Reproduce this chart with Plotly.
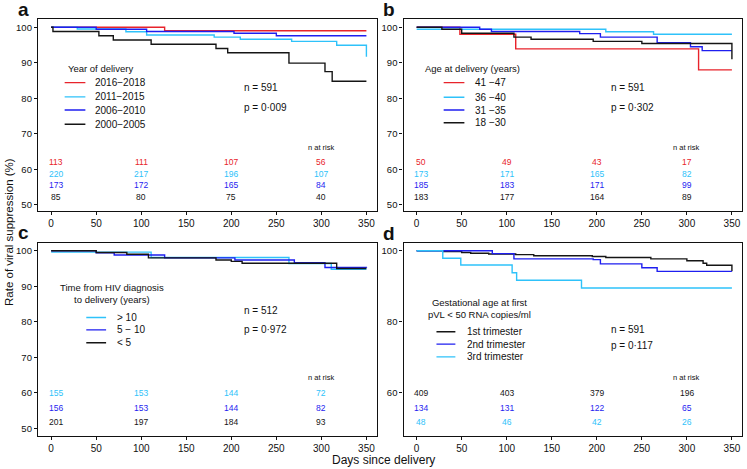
import plotly.graph_objects as go

# ---------------- data ----------------
RED = "#e8232b"
LBLUE = "#2ec2fa"
BLUE = "#1e1ef0"
BLACK = "#151515"

days_ticks = [0, 50, 100, 150, 200, 250, 300, 350]
risk_days = [0, 100, 200, 300]

# Panel a: Year of delivery
a_labels = ["2016\u22122018", "2011\u22122015", "2006\u22122010", "2000\u22122005"]
a_colors = [RED, LBLUE, BLUE, BLACK]
a_t = [
    [0, 126, 350],
    [0, 29, 83, 106, 181, 210, 267, 317, 350],
    [0, 50, 106, 203, 250, 350],
    [0, 2, 53, 69, 111, 183, 196, 264, 304, 312, 350],
]
a_s = [
    [100, 99.0, 99.0],
    [100, 99.5, 98.7, 97.8, 97.2, 96.6, 96.0, 94.9, 91.7],
    [100, 99.4, 98.8, 98.3, 97.6, 97.6],
    [100, 98.8, 97.6, 96.4, 95.2, 94.0, 92.8, 89.9, 87.5, 84.8, 84.8],
]
a_risk = [[113, 111, 107, 56], [220, 217, 196, 107], [173, 172, 165, 84], [85, 80, 75, 40]]

# Panel b: Age at delivery
b_labels = ["41 \u221247", "36 \u221240", "31 \u221235", "18 \u221230"]
b_colors = [RED, LBLUE, BLUE, BLACK]
b_t = [
    [0, 48, 110, 313, 350],
    [0, 210, 263, 350],
    [0, 70, 83, 181, 204, 267, 304, 317, 350],
    [0, 28, 50, 108, 127, 196, 250, 350],
]
b_s = [
    [100, 98.0, 93.9, 88.0, 88.0],
    [99.4, 98.7, 98.0, 98.0],
    [100, 99.4, 98.8, 98.2, 97.2, 95.6, 94.5, 93.4, 93.4],
    [100, 99.4, 98.3, 97.2, 96.6, 96.0, 95.4, 91.0],
]
b_risk = [[50, 49, 43, 17], [173, 171, 165, 82], [185, 183, 171, 99], [183, 177, 164, 89]]

# Panel c: Time from HIV diagnosis to delivery
c_labels = ["> 10", "5 \u2212 10", "< 5"]
c_colors = [LBLUE, BLUE, BLACK]
c_t = [
    [0, 111, 264, 311, 350],
    [0, 50, 70, 126, 204, 270, 304, 350],
    [0, 50, 84, 108, 183, 200, 212, 317, 350],
]
c_s = [
    [99.6, 98.1, 96.4, 94.8, 94.8],
    [100, 99.4, 98.8, 98.0, 97.4, 96.6, 95.3, 95.2],
    [100, 99.5, 99.0, 98.0, 97.4, 97.0, 96.5, 95.0, 95.0],
]
c_risk = [[155, 153, 144, 72], [156, 153, 144, 82], [201, 197, 184, 93]]

# Panel d: Gestational age at first pVL < 50
d_labels = ["1st trimester", "2nd trimester", "3rd trimester"]
d_colors = [BLACK, BLUE, LBLUE]
d_t = [
    [0, 30, 50, 60, 80, 110, 130, 195, 210, 260, 300, 318, 322, 350],
    [0, 84, 108, 196, 204, 250, 267, 350],
    [0, 29, 49, 106, 111, 183, 350],
]
d_s = [
    [100, 99.8, 99.5, 99.3, 99.1, 98.9, 98.6, 98.4, 98.1, 97.7, 97.2, 96.5, 95.9, 94.2],
    [100, 99.2, 97.7, 97.5, 96.3, 95.2, 94.2, 94.2],
    [100, 97.9, 96.0, 93.8, 91.7, 89.5, 89.5],
]
d_risk = [[409, 403, 379, 196], [134, 131, 122, 65], [48, 46, 42, 26]]

n_values = [591, 591, 512, 591]
p_values = ["0\u00b7009", "0\u00b7302", "0\u00b7972", "0\u00b7117"]

# ---------------- figure ----------------
W, H = 747, 469
FONT = "Liberation Sans, Arial, sans-serif"

fig = go.Figure()

panels = [
    dict(ax="", t=a_t, s=a_s, labels=a_labels, colors=a_colors, risk=a_risk,
         title="Year of delivery", title_xy=(55, 88.5), leg_x=(15, 38), leg_text_x=47,
         leg_rows=[84.4, 80.4, 76.7, 72.7], np_xy=(212, 82.9, 77.5),
         risk_rows=[62.0, 58.8, 55.5, 52.3], risk_label_y=66.3),
    dict(ax="2", t=b_t, s=b_s, labels=b_labels, colors=b_colors, risk=b_risk,
         title="Age at delivery (years)", title_xy=(62, 88.5), leg_x=(30, 53), leg_text_x=62.5,
         leg_rows=[84.4, 80.3, 76.7, 73.1], np_xy=(213, 82.9, 77.5),
         risk_rows=[62.0, 58.8, 55.5, 52.3], risk_label_y=66.3),
    dict(ax="3", t=c_t, s=c_s, labels=c_labels, colors=c_colors, risk=c_risk,
         title="Time from HIV diagnosis<br>to delivery (years)", title_xy=(67, 87.9), leg_x=(39, 61), leg_text_x=71,
         leg_rows=[81.2, 77.7, 74.1], np_xy=(212, 83.1, 77.7),
         risk_rows=[60.0, 55.8, 51.7], risk_label_y=64.4),
    dict(ax="4", t=d_t, s=d_s, labels=d_labels, colors=d_colors, risk=d_risk,
         title="Gestational age at first<br>pVL < 50 RNA copies/ml", title_xy=(70, 83.6), leg_x=(22, 43), leg_text_x=53.7,
         leg_rows=[77.2, 73.7, 70.1], np_xy=(213, 77.9, 73.2),
         risk_rows=[60.0, 55.8, 51.7], risk_label_y=64.4),
]

annotations = []
shapes = []

for i, p in enumerate(panels):
    xr = "x" + p["ax"]
    yr = "y" + p["ax"]
    for t, s, lab, col in zip(p["t"], p["s"], p["labels"], p["colors"]):
        fig.add_trace(go.Scatter(
            x=t, y=s, mode="lines", line=dict(color=col, width=1.4, shape="hv"),
            name=lab, showlegend=False, xaxis=xr, yaxis=yr, hoverinfo="skip"))
    # legend title
    annotations.append(dict(x=p["title_xy"][0], y=p["title_xy"][1], xref=xr, yref=yr,
                            text=p["title"], showarrow=False, xanchor="center", yanchor="middle",
                            font=dict(size=9.5, color="#111", family=FONT)))
    for lab, col, ry in zip(p["labels"], p["colors"], p["leg_rows"]):
        shapes.append(dict(type="line", xref=xr, yref=yr, x0=p["leg_x"][0], x1=p["leg_x"][1],
                           y0=ry, y1=ry, line=dict(color=col, width=1.4)))
        annotations.append(dict(x=p["leg_text_x"], y=ry, xref=xr, yref=yr, text=lab,
                                showarrow=False, xanchor="left", yanchor="middle",
                                font=dict(size=10, color="#111", family=FONT)))
    # n and p
    nx, ny, py = p["np_xy"]
    annotations.append(dict(x=nx, y=ny, xref=xr, yref=yr, text="n = %d" % n_values[i],
                            showarrow=False, xanchor="left", yanchor="middle",
                            font=dict(size=10, color="#111", family=FONT)))
    annotations.append(dict(x=nx, y=py, xref=xr, yref=yr, text="p = " + p_values[i],
                            showarrow=False, xanchor="left", yanchor="middle",
                            font=dict(size=10, color="#111", family=FONT)))
    # numbers at risk
    annotations.append(dict(x=300, y=p["risk_label_y"], xref=xr, yref=yr, text="n at risk",
                            showarrow=False, xanchor="center", yanchor="middle",
                            font=dict(size=7.5, color="#111", family=FONT)))
    for row, col, ry in zip(p["risk"], p["colors"], p["risk_rows"]):
        for d, v in zip(risk_days, row):
            annotations.append(dict(x=max(d, 5), y=ry, xref=xr, yref=yr, text=str(v),
                                    showarrow=False, xanchor="center", yanchor="middle",
                                    font=dict(size=8.5, color=col, family=FONT)))

# panel letters
for letter, px, py in [("a", 24, 10), ("b", 389, 10), ("c", 23, 232), ("d", 389, 233)]:
    annotations.append(dict(x=px / W, y=1 - py / H, xref="paper", yref="paper", text="<b>%s</b>" % letter,
                            showarrow=False, xanchor="center", yanchor="middle",
                            font=dict(size=19, color="#111", family=FONT)))

# axis titles
annotations.append(dict(x=384 / W, y=1 - 460 / H, xref="paper", yref="paper", text="Days since delivery",
                        showarrow=False, xanchor="center", yanchor="middle",
                        font=dict(size=12, color="#111", family=FONT)))
annotations.append(dict(x=9 / W, y=1 - 232 / H, xref="paper", yref="paper",
                        text="Rate of viral suppression (%)", textangle=-90,
                        showarrow=False, xanchor="center", yanchor="middle",
                        font=dict(size=11.5, color="#111", family=FONT)))

xdom_l = [38 / W, 376.5 / W]
xdom_r = [403.5 / W, 742 / W]
ydom_t = [1 - 211 / H, 1 - 19 / H]
ydom_b = [1 - 435.7 / H, 1 - 243.3 / H]

def xax(dom, anchor):
    return dict(domain=dom, anchor=anchor, range=[-14.6, 361.2], tickvals=days_ticks,
                ticks="outside", ticklen=3, tickwidth=1, tickcolor="#111",
                showline=True, linecolor="#111", linewidth=1.3, mirror=True,
                showgrid=False, zeroline=False,
                tickfont=dict(size=10, color="#111", family=FONT))

def yax(dom, anchor, rng, tv):
    return dict(domain=dom, anchor=anchor, range=rng, tickvals=tv,
                ticks="outside", ticklen=3, tickwidth=1, tickcolor="#111",
                showline=True, linecolor="#111", linewidth=1.3, mirror=True,
                showgrid=False, zeroline=False,
                tickfont=dict(size=9.5, color="#111", family=FONT))

yt10 = [50, 60, 70, 80, 90, 100]
fig.update_layout(
    width=W, height=H,
    margin=dict(l=0, r=0, t=0, b=0),
    paper_bgcolor="white", plot_bgcolor="white",
    showlegend=False,
    xaxis=xax(xdom_l, "y"), yaxis=yax(ydom_t, "x", [48.3, 102.3], yt10),
    xaxis2=xax(xdom_r, "y2"), yaxis2=yax(ydom_t, "x2", [48.3, 102.3], yt10),
    xaxis3=xax(xdom_l, "y3"), yaxis3=yax(ydom_b, "x3", [47.9, 102.1], yt10),
    xaxis4=xax(xdom_r, "y4"), yaxis4=yax(ydom_b, "x4", [47.9, 102.1], [60, 80, 100]),
    annotations=annotations, shapes=shapes,
    font=dict(family=FONT, color="#111"),
)

fig.write_html(
    "out.html",
    config={"displayModeBar": False},
    post_script="document.body.style.margin='0';document.body.style.padding='0';document.body.style.overflow='hidden';",
)
